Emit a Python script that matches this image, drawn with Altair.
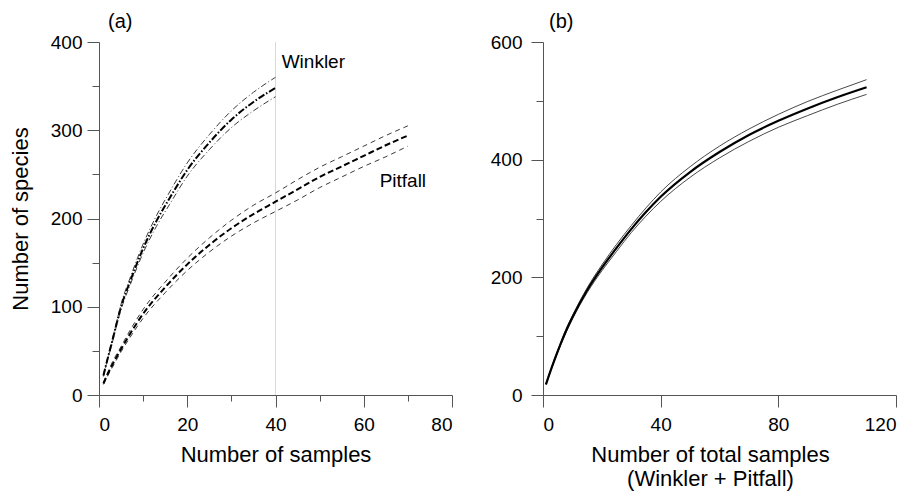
import altair as alt
import pandas as pd

FONT = "Liberation Sans"

# ---- Panel (a): species accumulation per method ----
winkler_n = [1, 2, 3, 4, 5, 7, 10, 13, 16, 20, 25, 30, 35, 40]
winkler_mean = [22, 42, 61, 81, 100, 128, 166, 197, 223, 255, 286, 312, 332, 348]
winkler_upper = [23, 43, 63, 83, 103, 132, 171, 203, 230, 263, 295, 322, 343, 360]
winkler_lower = [21, 41, 59, 79, 97, 124, 161, 191, 216, 248, 278, 303, 322, 338]

pitfall_n = [1, 2, 3, 5, 7, 10, 15, 20, 25, 30, 35, 40, 45, 50, 55, 60, 65, 70]
pitfall_mean = [13, 24, 34, 52, 69, 92, 122, 148, 170, 189, 205, 219, 233, 247, 259, 271, 283, 294]
pitfall_upper = [14, 26, 37, 55, 73, 97, 128, 155, 178, 198, 215, 229, 244, 258, 270, 282, 294, 305]
pitfall_lower = [12, 22, 31, 49, 65, 87, 116, 141, 162, 180, 195, 208, 221, 235, 247, 259, 270, 282]

# ---- Panel (b): pooled samples ----
total_n = [1, 2, 4, 6, 8, 10, 15, 20, 25, 30, 35, 40, 50, 60, 70, 80, 90, 100, 110]
total_mean = [18, 33, 61, 87, 111, 132, 178, 216, 250, 282, 311, 337, 379, 413, 442, 466, 487, 506, 523]
total_upper = [19, 34, 63, 89, 114, 135, 182, 221, 256, 288, 318, 345, 388, 423, 452, 477, 499, 518, 536]
total_lower = [17, 32, 59, 85, 108, 129, 174, 211, 244, 276, 304, 329, 370, 403, 431, 455, 475, 494, 511]


def long_table(n, series):
    rows = []
    for name, vals in series.items():
        for x, y in zip(n, vals):
            rows.append({"n": x, "species": y, "curve": name})
    return pd.DataFrame(rows)


w_mean = long_table(winkler_n, {"mean": winkler_mean})
w_band = long_table(winkler_n, {"upper": winkler_upper, "lower": winkler_lower})
p_mean = long_table(pitfall_n, {"mean": pitfall_mean})
p_band = long_table(pitfall_n, {"upper": pitfall_upper, "lower": pitfall_lower})
t_mean = long_table(total_n, {"mean": total_mean})
t_band = long_table(total_n, {"upper": total_upper, "lower": total_lower})

labels_a = pd.DataFrame({"n": [41.4, 63.6], "species": [377, 243], "text": ["Winkler", "Pitfall"]})
# vertical guide at the end of the Winkler series
divider = pd.DataFrame({"n": [40], "species": [0], "top": [400]})


def minor_ticks(major, long=12, short=6):
    return {"condition": {"test": f"datum.value % {major} !== 0", "value": short}, "value": long}


xa = alt.X(
    "n:Q",
    scale=alt.Scale(domain=[0, 80], nice=False),
    axis=alt.Axis(
        values=list(range(0, 81, 10)),
        labelExpr="datum.value % 20 === 0 ? datum.label : ''",
        tickSize=minor_ticks(20),
        labelPadding=8,
        title="Number of samples",
        titlePadding=10,
    ),
)
ya = alt.Y(
    "species:Q",
    scale=alt.Scale(domain=[0, 400], nice=False),
    axis=alt.Axis(
        values=list(range(0, 401, 50)),
        labelExpr="datum.value % 100 === 0 ? datum.label : ''",
        tickSize=minor_ticks(100, short=7),
        labelPadding=5,
        title="Number of species",
        titlePadding=18,
    ),
)

rule_a = alt.Chart(divider).mark_rule(color="#d9d9d9", strokeWidth=1).encode(
    x=xa, y=ya, y2="top:Q"
)
w_band_l = alt.Chart(w_band).mark_line(
    color="#222", strokeWidth=0.9, strokeDash=[6, 2.5, 1, 2.5], interpolate="monotone"
).encode(x=xa, y=ya, detail="curve:N")
w_mean_l = alt.Chart(w_mean).mark_line(
    color="black", strokeWidth=2, strokeDash=[7, 2, 1.5, 2], interpolate="monotone"
).encode(x=xa, y=ya)
p_band_l = alt.Chart(p_band).mark_line(
    color="#222", strokeWidth=0.9, strokeDash=[5, 4], interpolate="monotone"
).encode(x=xa, y=ya, detail="curve:N")
p_mean_l = alt.Chart(p_mean).mark_line(
    color="black", strokeWidth=2, strokeDash=[6, 3], interpolate="monotone"
).encode(x=xa, y=ya)
text_a = alt.Chart(labels_a).mark_text(
    align="left", baseline="middle", fontSize=19, font=FONT, color="black"
).encode(x=xa, y=ya, text="text:N")

panel_a = alt.layer(rule_a, w_band_l, w_mean_l, p_band_l, p_mean_l, text_a).properties(
    width=353,
    height=353,
    title=alt.TitleParams("(a)", anchor="start", frame="group", dx=9, fontSize=20,
                          font=FONT, fontWeight="normal", offset=1),
)

xb = alt.X(
    "n:Q",
    scale=alt.Scale(domain=[0, 120], nice=False),
    axis=alt.Axis(
        values=[0, 40, 80, 120],
        tickSize=12,
        labelPadding=8,
        title=["Number of total samples", "(Winkler + Pitfall)"],
        titleX=167,
        titlePadding=10,
        titleLineHeight=24,
    ),
)
yb = alt.Y(
    "species:Q",
    scale=alt.Scale(domain=[0, 600], nice=False),
    axis=alt.Axis(
        values=list(range(0, 601, 100)),
        labelExpr="datum.value % 200 === 0 ? datum.label : ''",
        tickSize=minor_ticks(200, short=7),
        labelPadding=9,
        title=None,
    ),
)

t_band_l = alt.Chart(t_band).mark_line(
    color="#333", strokeWidth=0.9, interpolate="monotone"
).encode(x=xb, y=yb, detail="curve:N")
t_mean_l = alt.Chart(t_mean).mark_line(
    color="black", strokeWidth=2.2, interpolate="monotone"
).encode(x=xb, y=yb)

panel_b = alt.layer(t_band_l, t_mean_l).properties(
    width=353,
    height=353,
    title=alt.TitleParams("(b)", anchor="start", frame="group", dx=6, fontSize=20,
                          font=FONT, fontWeight="normal", offset=1),
)

chart = (
    alt.hconcat(panel_a, panel_b, spacing=37)
    .properties(padding={"left": 9, "top": 12, "right": 5, "bottom": 5}, background="white")
    .configure_view(stroke=None)
    .configure_axis(
        grid=False,
        domainColor="#555",
        domainWidth=1,
        tickColor="#555",
        tickWidth=1,
        labelFont=FONT,
        labelFontSize=19,
        labelColor="black",
        titleFont=FONT,
        titleFontSize=22,
        titleFontWeight="normal",
        titleColor="black",
    )
)

chart.save("out.html", embed_options={"renderer": "svg", "actions": False})
